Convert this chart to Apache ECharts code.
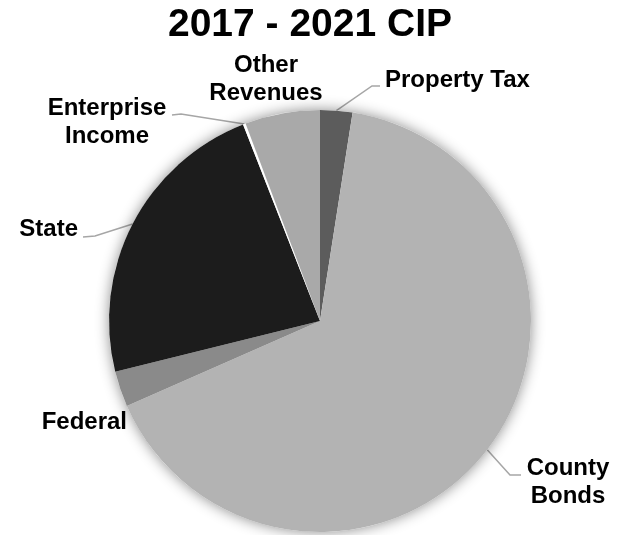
<!DOCTYPE html>
<html>
<head>
<meta charset="utf-8">
<script src="https://cdn.jsdelivr.net/npm/echarts@6/dist/echarts.min.js"></script>
<style>
  html, body { margin: 0; padding: 0; background: #fff; }
  #chart { width: 620px; height: 535px; }
</style>
</head>
<body>
<div id="chart"></div>
<script>
// Funding sources for the 2017 - 2021 capital improvement program (percent of total)
const categories = ['Property Tax', 'County Bonds', 'Federal', 'State', 'Enterprise Income', 'Other Revenues'];
const shares = [2.47, 65.94, 2.72, 22.93, 0.2, 5.74];
const labelText = ['Property Tax', 'County\nBonds', 'Federal', 'State', 'Enterprise\nIncome', 'Other\nRevenues'];
const sliceColors = ['#5c5c5c', '#b3b3b3', '#8a8a8a', '#1c1c1c', '#ffffff', '#a9a9a9'];

const FONT = "'Liberation Sans', Arial, sans-serif";
const CENTER = [320, 321];
const RADIUS = 211;

// Where each label sits and how its leader bends on the way to the slice edge
const labelPlacement = {
  'Property Tax':      { x: 385, y: 80,  align: 'left',   bend: [[372, 86], [380, 86]] },
  'County Bonds':      { x: 568, y: 482, align: 'center', bend: [[510, 475], [521, 475]] },
  'Federal':           { x: 127, y: 422, align: 'right',  bend: null },
  'State':             { x: 78,  y: 229, align: 'right',  bend: [[95, 236], [83, 237]] },
  'Enterprise Income': { x: 107, y: 122, align: 'center', bend: [[181, 114], [172, 115]] },
  'Other Revenues':    { x: 266, y: 79,  align: 'center', bend: null }
};

const total = shares.reduce((a, b) => a + b, 0);

const pieData = categories.map((name, i) => ({
  name: name,
  value: shares[i],
  itemStyle: { color: sliceColors[i] },
  label: { formatter: labelText[i] },
  labelLine: { show: labelPlacement[name].bend !== null }
}));

const chart = echarts.init(document.getElementById('chart'), null, { renderer: 'canvas' });

chart.setOption({
  backgroundColor: '#ffffff',
  animation: false,
  title: {
    text: '2017 - 2021 CIP',
    left: 'center',
    top: 1,
    textStyle: { fontFamily: FONT, fontSize: 39, fontWeight: 'bold', color: '#000' }
  },
  series: [
    {
      // soft drop shadow beneath the whole disc
      type: 'pie',
      silent: true,
      center: CENTER,
      radius: RADIUS,
      label: { show: false },
      labelLine: { show: false },
      itemStyle: {
        color: '#ffffff',
        shadowBlur: 14,
        shadowColor: 'rgba(0,0,0,0.45)'
      },
      data: [{ value: total, name: 'all' }]
    },
    {
      type: 'pie',
      center: CENTER,
      radius: RADIUS,
      startAngle: 90,
      clockwise: true,
      avoidLabelOverlap: false,
      itemStyle: { borderWidth: 0 },
      label: {
        show: true,
        position: 'outside',
        fontFamily: FONT,
        fontSize: 24,
        fontWeight: 'bold',
        lineHeight: 28,
        color: '#000'
      },
      labelLine: {
        show: true,
        length: 10,
        length2: 10,
        lineStyle: { color: '#a6a6a6', width: 1.5 }
      },
      labelLayout: function (params) {
        const name = categories[params.dataIndex];
        const p = labelPlacement[name];
        const out = {
          x: p.x,
          y: p.y,
          align: p.align,
          verticalAlign: 'middle'
        };
        if (p.bend && params.labelLinePoints) {
          out.labelLinePoints = [params.labelLinePoints[0], p.bend[0], p.bend[1]];
        }
        return out;
      },
      data: pieData
    }
  ]
});
</script>
</body>
</html>
